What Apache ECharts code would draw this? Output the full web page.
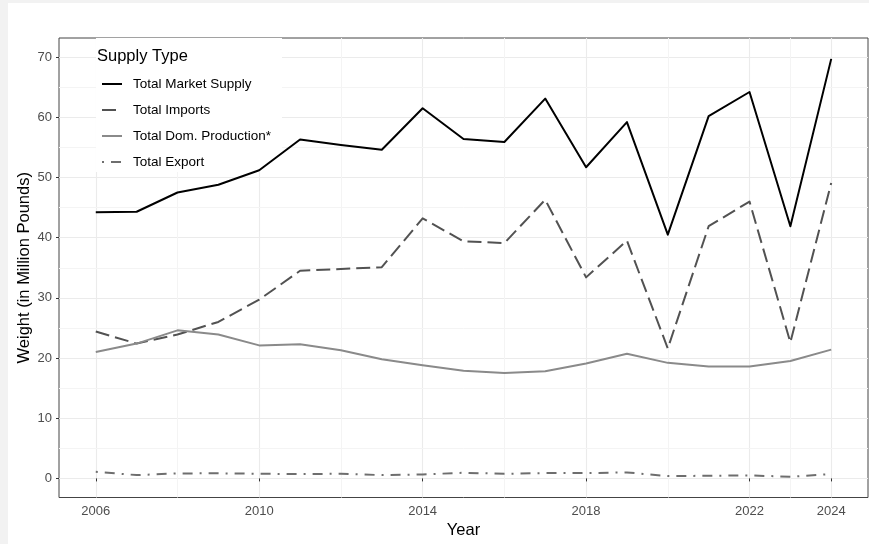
<!DOCTYPE html>
<html>
<head>
<meta charset="utf-8">
<script src="https://cdn.jsdelivr.net/npm/echarts@6/dist/echarts.min.js"></script>
<style>
html,body{margin:0;padding:0;background:#f2f2f2;width:869px;height:544px;overflow:hidden;}
#c{position:absolute;left:8px;top:3px;width:861px;height:541px;background:#fff;}
</style>
</head>
<body>
<div id="c"></div>
<script>
const years = [2006,2007,2008,2009,2010,2011,2012,2013,2014,2015,2016,2017,2018,2019,2020,2021,2022,2023,2024];
const marketSupply = [44.2,44.3,47.5,48.8,51.2,56.3,55.4,54.6,61.5,56.4,55.9,63.1,51.7,59.2,40.5,60.2,64.2,41.9,69.7];
const imports = [24.4,22.4,23.9,26.0,29.7,34.5,34.8,35.1,43.2,39.4,39.1,46.3,33.4,39.5,21.6,41.9,46.0,22.6,49.1];
const domProduction = [21.0,22.4,24.6,23.9,22.1,22.3,21.3,19.8,18.8,17.9,17.5,17.8,19.1,20.7,19.2,18.6,18.6,19.5,21.4];
const exportsData = [1.1,0.55,0.83,0.85,0.77,0.72,0.77,0.55,0.66,0.94,0.77,0.88,0.88,1.0,0.39,0.44,0.5,0.28,0.72];
const seriesNames = ['Total Market Supply','Total Imports','Total Dom. Production*','Total Export'];
const xTicks = [2006,2010,2014,2018,2022,2024];
const xMinor = [2008,2012,2016,2020,2023];
const yTicks = [0,10,20,30,40,50,60,70];
const yMinor = [5,15,25,35,45,55,65];

const pairs = arr => years.map((y,i)=>[y,arr[i]]);
const FONT = '"Liberation Sans", Arial, sans-serif';

const gridLines = [];
xTicks.forEach(v=>gridLines.push({xAxis:v, lineStyle:{color:'#ebebeb',width:1.1,type:'solid'}}));
yTicks.forEach(v=>gridLines.push({yAxis:v, lineStyle:{color:'#ebebeb',width:1.1,type:'solid'}}));
xMinor.forEach(v=>gridLines.push({xAxis:v, lineStyle:{color:'#f4f4f4',width:1,type:'solid'}}));
yMinor.forEach(v=>gridLines.push({yAxis:v, lineStyle:{color:'#f4f4f4',width:1,type:'solid'}}));

const chart = echarts.init(document.getElementById('c'), null, {renderer:'canvas'});
const styles = [
  {color:'#000000', type:'solid'},
  {color:'#525252', type:[14,6]},
  {color:'#8a8a8a', type:'solid'},
  {color:'#6e6e6e', type:[2,7,10,7]}
];
const dataSets = [marketSupply, imports, domProduction, exportsData];

const series = [{
  name:'grid', type:'line', data:[], silent:true, z:0,
  markLine:{silent:true, symbol:['none','none'], label:{show:false}, z:0, animation:false, data:gridLines}
}];
dataSets.forEach((d,i)=>{
  series.push({
    name:seriesNames[i], type:'line', data:pairs(d), symbol:'none', showSymbol:false, z:3,
    lineStyle:{color:styles[i].color, width:2, type:styles[i].type, cap:'butt', join:'round'},
    itemStyle:{color:styles[i].color},
    emphasis:{disabled:true}
  });
});

chart.setOption({
  animation:false,
  backgroundColor:'#ffffff',
  grid:{left:51, top:35, width:809, height:459.5, show:true, borderColor:'#444', borderWidth:1, backgroundColor:'transparent', containLabel:false, outerBoundsMode:'none'},
  title:{text:'Supply Type', left:89, top:45, padding:0, textStyle:{fontFamily:FONT, fontSize:16.5, fontWeight:'normal', color:'#000'}},
  legend:{
    data:seriesNames, orient:'vertical', left:93, top:74, padding:0, itemWidth:20, itemHeight:14, itemGap:12,
    textStyle:{fontFamily:FONT, fontSize:13.5, color:'#000', padding:[0,0,0,6]},
    itemStyle:{opacity:0},
    selectedMode:false, z:10
  },
  graphic:[{type:'rect', left:88, top:35, shape:{width:186, height:134}, style:{fill:'#ffffff'}, z:1, silent:true}],
  xAxis:{
    type:'value', min:2005.1, max:2024.9,
    name:'Year', nameLocation:'middle', nameGap:24.5, nameMoveOverlap:false,
    nameTextStyle:{fontFamily:FONT, fontSize:16.5, color:'#000'},
    axisLine:{show:false},
    axisTick:{show:true, inside:false, length:3, lineStyle:{color:'#333'}, customValues:xTicks},
    axisLabel:{show:true, customValues:xTicks, margin:7, fontFamily:FONT, fontSize:13, color:'#4d4d4d', formatter:v=>String(v)},
    splitLine:{show:false}
  },
  yAxis:{
    type:'value', min:-3.17, max:73.17,
    name:'Weight (in Million Pounds)', nameLocation:'middle', nameGap:26, nameMoveOverlap:false,
    nameTextStyle:{fontFamily:FONT, fontSize:16.5, color:'#000'},
    axisLine:{show:false},
    axisTick:{show:true, inside:false, length:3, lineStyle:{color:'#333'}, customValues:yTicks},
    axisLabel:{show:true, customValues:yTicks, margin:7, fontFamily:FONT, fontSize:13, color:'#4d4d4d', formatter:v=>String(v)},
    splitLine:{show:false}
  },
  series:series
});
</script>
</body>
</html>
